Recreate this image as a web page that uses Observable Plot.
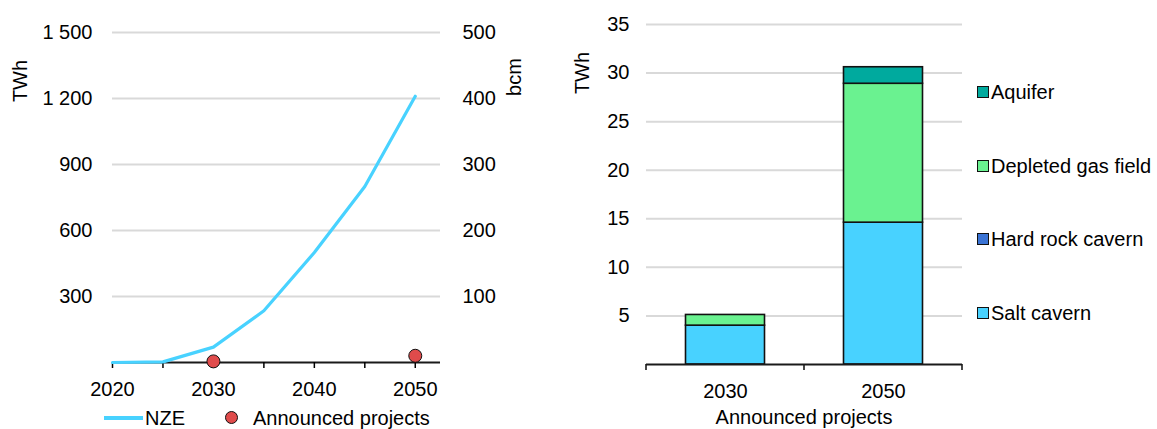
<!DOCTYPE html>
<html>
<head>
<meta charset="utf-8">
<script src="https://cdn.jsdelivr.net/npm/d3@7"></script>
<script src="https://cdn.jsdelivr.net/npm/@observablehq/plot@0.6"></script>
<style>
  html, body { margin: 0; padding: 0; background: #fff; }
  #wrap { position: relative; width: 1157px; height: 429px; overflow: hidden; font-family: "Liberation Sans", Arial, sans-serif; font-size: 20px; color: #000; }
  .abs { position: absolute; white-space: nowrap; line-height: 1; }
  .plot { position: absolute; top: 0; }
</style>
</head>
<body>
<div id="wrap"></div>
<script>
// ---- Data ----
const nzeYears = [2020, 2025, 2030, 2035, 2040, 2045, 2050];
const nzeTWh = [0, 3, 70, 235, 500, 800, 1210];
const announcedYears = [2030, 2050];
const announcedTWh = [5.1, 30.6];
const leftYTicks = [300, 600, 900, 1200, 1500];
const leftXLabels = [2020, 2030, 2040, 2050];
const leftXTicks = [2020, 2025, 2030, 2035, 2040, 2045, 2050];

const barYears = ["2030", "2050"];
const storageTypes = ["Salt cavern", "Hard rock cavern", "Depleted gas field", "Aquifer"];
const saltCavern = [4.0, 14.6];
const hardRockCavern = [0, 0];
const depletedGasField = [1.1, 14.3];
const aquifer = [0, 1.7];
const storageColors = ["#48d2ff", "#3a73d4", "#6af290", "#00aa9e"];
const rightYTicks = [5, 10, 15, 20, 25, 30, 35];

const wrap = document.getElementById("wrap");
const fmt = d => d3.format(",")(d).replace(/,/g, " ");

// ---- Left chart ----
const nzeData = nzeYears.map((y, i) => ({year: y, value: nzeTWh[i]}));
const annData = announcedYears.map((y, i) => ({year: y, value: announcedTWh[i]}));

const left = Plot.plot({
  width: 560, height: 429,
  marginLeft: 112, marginRight: 120, marginTop: 32, marginBottom: 67,
  style: {fontFamily: "Liberation Sans, Arial, sans-serif", fontSize: "20px", color: "#000", background: "transparent", overflow: "visible"},
  x: {domain: [2020, 2052.5]},
  y: {domain: [0, 1500]},
  marks: [
    Plot.gridY(leftYTicks, {stroke: "#d9d9d9", strokeOpacity: 1, strokeWidth: 2}),
    Plot.ruleY([0], {stroke: "#1a1a1a", strokeWidth: 1.8}),
    Plot.axisY(leftYTicks, {anchor: "left", tickSize: 0, tickPadding: 20, tickFormat: fmt, label: null}),
    Plot.axisY(leftYTicks, {anchor: "right", tickSize: 0, tickPadding: 22, tickFormat: d => fmt(d / 3), label: null}),
    Plot.axisX(leftXTicks, {tickSize: 6, strokeWidth: 1.5, tickFormat: () => "", label: null}),
    Plot.axisX(leftXLabels, {tickSize: 0, tickPadding: 19, tickFormat: d => String(d), label: null}),
    Plot.line(nzeData, {x: "year", y: "value", stroke: "#48d2ff", strokeWidth: 3.2}),
    Plot.dot(annData, {x: "year", y: "value", r: 6.5, fill: "#e04b4b", stroke: "#111", strokeWidth: 1})
  ]
});
left.classList.add("plot");
left.style.left = "0px";
wrap.appendChild(left);

// ---- Right chart ----
const barData = [];
barYears.forEach((yr, i) => {
  const vals = [saltCavern[i], hardRockCavern[i], depletedGasField[i], aquifer[i]];
  storageTypes.forEach((t, j) => { if (vals[j] > 0) barData.push({year: yr, type: t, value: vals[j]}); });
});

const right = Plot.plot({
  width: 597, height: 429,
  marginLeft: 86, marginRight: 195, marginTop: 24, marginBottom: 65,
  style: {fontFamily: "Liberation Sans, Arial, sans-serif", fontSize: "20px", color: "#000", background: "transparent", overflow: "visible"},
  x: {type: "band", domain: barYears, paddingInner: 0.5, paddingOuter: 0.25, round: false},
  y: {domain: [0, 35]},
  color: {domain: storageTypes, range: storageColors},
  marks: [
    Plot.gridY(rightYTicks, {stroke: "#d9d9d9", strokeOpacity: 1, strokeWidth: 2}),
    Plot.barY(barData, {x: "year", y: "value", fill: "type", stroke: "#111", strokeWidth: 1.6, order: storageTypes}),
    Plot.ruleY([0], {stroke: "#1a1a1a", strokeWidth: 1.8}),
    Plot.axisY(rightYTicks, {anchor: "left", tickSize: 0, tickPadding: 17, label: null}),
    Plot.axisX({tickSize: 0, tickPadding: 19, label: null})
  ]
});
right.classList.add("plot");
right.style.left = "560px";
wrap.appendChild(right);

// category-boundary ticks on the right x axis, from the plot's own scales
{
  const xs = right.scale("x"), ys = right.scale("y");
  const bw = xs.bandwidth != null ? xs.bandwidth : 0;
  const centers = barYears.map(d => xs.apply(d) + bw / 2);
  const bounds = [xs.range[0]];
  for (let i = 1; i < centers.length; i++) bounds.push((centers[i - 1] + centers[i]) / 2);
  bounds.push(xs.range[1]);
  const y0 = ys.apply(0);
  d3.select(right).append("g").attr("stroke", "#1a1a1a").attr("stroke-width", 1.6)
    .selectAll("line").data(bounds).join("line")
    .attr("x1", d => d).attr("x2", d => d).attr("y1", y0).attr("y2", y0 + 6);
}

// ---- HTML text: axis titles & legends ----
function label(text, x, y, opts = {}) {
  const el = document.createElement("div");
  el.className = "abs";
  el.textContent = text;
  el.style.left = x + "px";
  el.style.top = y + "px";
  const ax = opts.anchor === "middle" ? "-50%" : opts.anchor === "end" ? "-100%" : "0";
  el.style.transform = `translate(${ax}, -50%)`;
  if (opts.rotate) { el.style.transform = `translate(-50%, -50%) rotate(${opts.rotate}deg)`; }
  wrap.appendChild(el);
  return el;
}
label("TWh", 20, 81, {rotate: -90});
label("bcm", 514, 77, {rotate: -90});
label("TWh", 582, 73, {rotate: -90});
label("Announced projects", 804, 417, {anchor: "middle"});

// left legend
{
  const sw = document.createElement("div");
  sw.className = "abs";
  Object.assign(sw.style, {left: "104px", top: "416px", width: "39px", height: "3.5px", background: "#48d2ff"});
  wrap.appendChild(sw);
  label("NZE", 145, 418);
  const dot = document.createElement("div");
  dot.className = "abs";
  Object.assign(dot.style, {left: "225px", top: "411px", width: "11px", height: "11px", borderRadius: "50%", background: "#e04b4b", border: "1px solid #111"});
  wrap.appendChild(dot);
  label("Announced projects", 253, 418);
}

// right legend (reverse stack order)
{
  const ys = [313, 239, 166, 92];
  storageTypes.forEach((t, i) => {
    const sq = document.createElement("div");
    sq.className = "abs";
    Object.assign(sq.style, {left: "977px", top: (ys[i] - 6) + "px", width: "10px", height: "10px", background: storageColors[i], border: "1.2px solid #111"});
    wrap.appendChild(sq);
    label(t, 991, ys[i]);
  });
}
</script>
</body>
</html>
